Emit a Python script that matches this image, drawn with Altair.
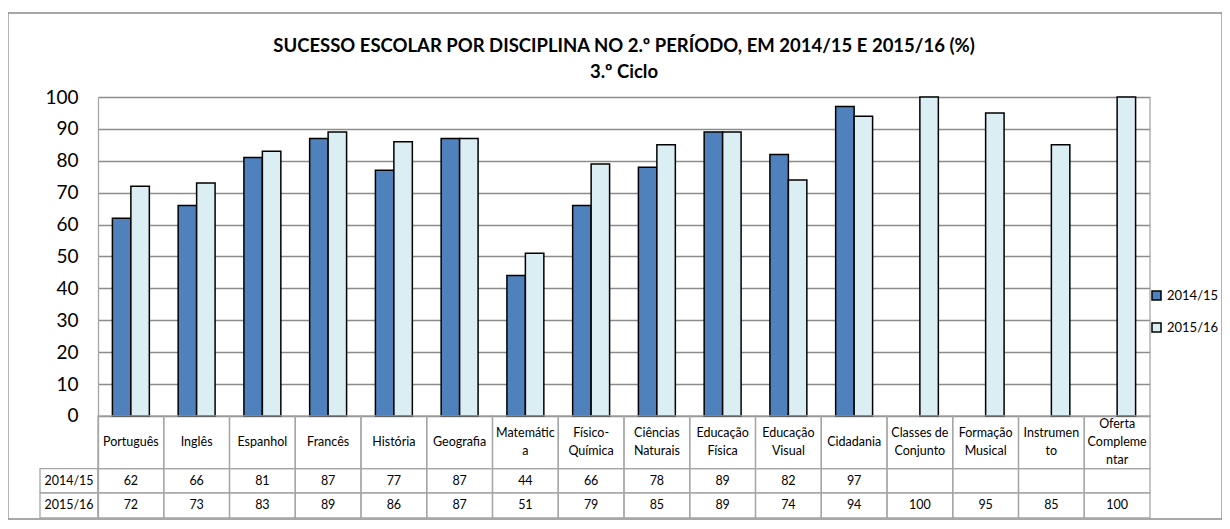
import altair as alt
import pandas as pd

# ---------------- data ----------------
categories = ["Português", "Inglês", "Espanhol", "Francês", "História", "Geografia",
              "Matemática", "Físico-Química", "Ciências Naturais", "Educação Física",
              "Educação Visual", "Cidadania", "Classes de Conjunto", "Formação Musical",
              "Instrumento", "Oferta Complementar"]
header_labels = ["Português", "Inglês", "Espanhol", "Francês", "História", "Geografia",
                 "Matemátic\na", "Físico-\nQuímica", "Ciências\nNaturais", "Educação\nFísica",
                 "Educação\nVisual", "Cidadania", "Classes de\nConjunto", "Formação\nMusical",
                 "Instrumen\nto", "Oferta\nCompleme\nntar"]
series = ["2014/15", "2015/16"]
values_2014_15 = [62, 66, 81, 87, 77, 87, 44, 66, 78, 89, 82, 97, None, None, None, None]
values_2015_16 = [72, 73, 83, 89, 86, 87, 51, 79, 85, 89, 74, 94, 100, 95, 85, 100]
y_ticks = list(range(0, 101, 10))
title_text = "SUCESSO ESCOLAR POR DISCIPLINA NO 2.º PERÍODO, EM 2014/15 E 2015/16 (%)"
subtitle_text = "3.º Ciclo"
colors = ["#4F81BD", "#DBEEF3"]

# ---------------- layout ----------------
W = 1052
PX_PER_UNIT = 3.19
ROW_UNITS = [16.5, 7.6, 7.9]          # header row, 2014/15 row, 2015/16 row (in y units)
tbl_bottom = -sum(ROW_UNITS)
H = round((100 - tbl_bottom) * PX_PER_UNIT)
FONT = "Lato"
GRID = "#8C8C8C"
TBL = "#A6A6A6"
LH = 18  # header line height

row_tops = [0, -ROW_UNITS[0], -ROW_UNITS[0] - ROW_UNITS[1]]
row_bots = [row_tops[1], row_tops[2], tbl_bottom]

# bars
bar_rows = []
for s, vals in zip(series, [values_2014_15, values_2015_16]):
    for c, v in zip(categories, vals):
        if v is not None:
            bar_rows.append({"category": c, "series": s, "value": v})
bars_df = pd.DataFrame(bar_rows)

# table cells
cell_rows = []
for i, c in enumerate(categories):
    texts = [header_labels[i],
             "" if values_2014_15[i] is None else str(values_2014_15[i]),
             "" if values_2015_16[i] is None else str(values_2015_16[i])]
    for r in range(3):
        cell_rows.append({"category": c, "y_top": row_tops[r], "y_bot": row_bots[r],
                          "y_mid": (row_tops[r] + row_bots[r]) / 2, "text": texts[r],
                          "nlines": texts[r].count("\n") + 1})
cells_df = pd.DataFrame(cell_rows)

label_df = pd.DataFrame([{"label": s, "y_top": row_tops[r + 1], "y_bot": row_bots[r + 1],
                          "y_mid": (row_tops[r + 1] + row_bots[r + 1]) / 2}
                         for r, s in enumerate(series)])
frame_df = pd.DataFrame([{"y_top": 100, "y_bot": 0}])
border_df = pd.DataFrame([{"k": 1}])

x_enc = alt.X("category:N", sort=categories,
              scale=alt.Scale(domain=categories, paddingInner=0, paddingOuter=0), axis=None)
y_scale = alt.Scale(domain=[tbl_bottom, 100], nice=False, zero=False)
y_axis = alt.Axis(values=y_ticks, title=None, grid=True, gridColor=GRID, gridWidth=1.3,
                  domain=True, domainColor=TBL, domainWidth=1.3, ticks=False,
                  labelFont=FONT, labelFontSize=19, labelColor="black", labelPadding=20)


def Y(field):
    return alt.Y(field, scale=y_scale, axis=y_axis, title=None)


bars = alt.Chart(bars_df).mark_bar(stroke="black", strokeWidth=1.5).encode(
    x=x_enc,
    xOffset=alt.XOffset("series:N", sort=series,
                        scale=alt.Scale(domain=series, paddingInner=0, paddingOuter=0.78)),
    y=Y("value:Q"),
    y2=alt.datum(0),
    color=alt.Color("series:N", sort=series, scale=alt.Scale(domain=series, range=colors),
                    legend=alt.Legend(title=None, orient="none", legendX=1052, legendY=192,
                                      symbolType="square", symbolSize=81,
                                      symbolStrokeColor="black", symbolStrokeWidth=1.5,
                                      labelFont=FONT, labelFontSize=13, labelColor="black",
                                      labelOffset=4, rowPadding=17, padding=0)),
)

right_frame = alt.Chart(frame_df).mark_rule(color=TBL, strokeWidth=1.3).encode(
    x=alt.value(W), y=Y("y_top:Q"), y2="y_bot:Q")

cells = alt.Chart(cells_df).mark_rect(fill="white", fillOpacity=0, stroke=TBL, strokeWidth=1.3).encode(
    x=x_enc, y=Y("y_top:Q"), y2="y_bot:Q")

text_layers = []
for k in (1, 2, 3):
    text_layers.append(
        alt.Chart(cells_df).transform_filter(alt.datum.nlines == k).mark_text(
            font=FONT, fontSize=12.5, color="black", lineBreak="\n", baseline="middle",
            lineHeight=LH, dy=-(k - 1) * LH / 2).encode(
            x=x_enc, y=Y("y_mid:Q"), text="text:N"))

label_cells = alt.Chart(label_df).mark_rect(fill="white", fillOpacity=0, stroke=TBL, strokeWidth=1.3).encode(
    x=alt.value(-58), x2=alt.value(0), y=Y("y_top:Q"), y2="y_bot:Q")

label_text = alt.Chart(label_df).mark_text(font=FONT, fontSize=12.5, color="black", baseline="middle").encode(
    x=alt.value(-29), y=Y("y_mid:Q"), text="label:N")

border = alt.Chart(border_df).mark_rect(fill="white", fillOpacity=0, stroke="#8C8C8C", strokeWidth=1.3).encode(
    x=alt.value(-90), x2=alt.value(1124), y=alt.value(-84), y2=alt.value(H + 1))

chart = alt.layer(border, bars, right_frame, cells, *text_layers, label_cells, label_text).properties(
    width=W, height=H,
    title=alt.TitleParams(text=title_text, subtitle=subtitle_text, font=FONT, fontSize=18.5,
                          fontWeight="bold", color="black", subtitleFont=FONT, subtitleFontSize=18.5,
                          subtitleFontWeight="bold", subtitleColor="black", subtitlePadding=7.5,
                          anchor="middle", frame="group", offset=-69),
    autosize=alt.AutoSizeParams(type="none"),
    padding={"left": 90, "top": 89, "right": 72, "bottom": 2},
).configure_view(stroke=None)

chart.save("out.html", embed_options={"renderer": "svg", "actions": False})
